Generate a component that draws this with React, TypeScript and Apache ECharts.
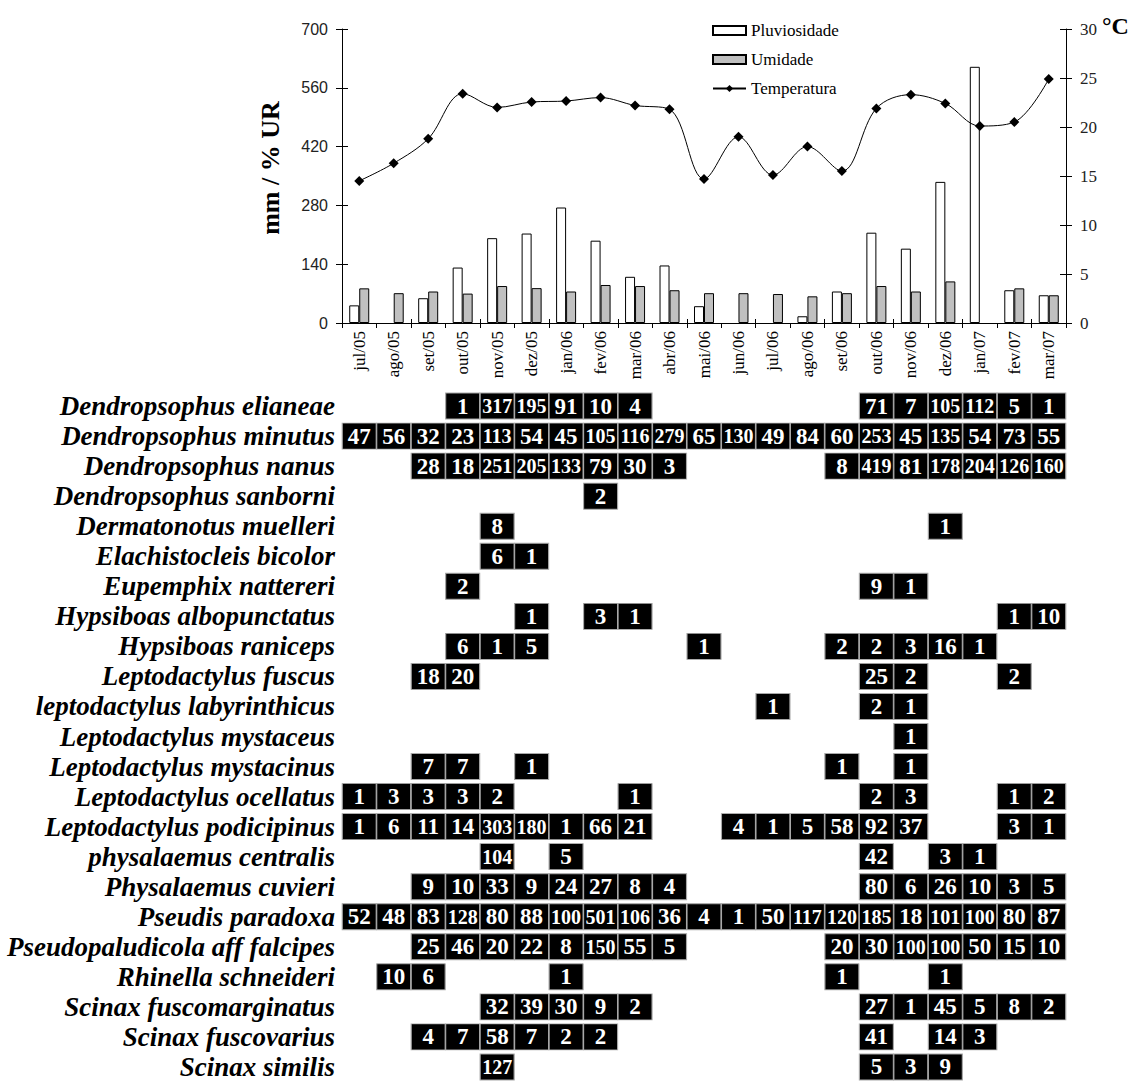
import React, { useEffect, useRef } from 'react';
import * as echarts from 'echarts';

const months = ['jul/05', 'ago/05', 'set/05', 'out/05', 'nov/05', 'dez/05', 'jan/06', 'fev/06', 'mar/06', 'abr/06', 'mai/06', 'jun/06', 'jul/06', 'ago/06', 'set/06', 'out/06', 'nov/06', 'dez/06', 'jan/07', 'fev/07', 'mar/07'];

const rainfall = [42, null, 59, 132, 202, 213, 275, 196, 110, 137, 40, null, null, 16, 75, 215, 177, 336, 610, 78, 66];
const humidity = [82.5, 71, 75, 70, 88, 83, 75, 90.5, 88, 78, 71, 71, 69, 63.5, 71, 88, 75, 99, null, 82.5, 66];
const temperature = [14.5, 16.3, 18.8, 23.4, 22.0, 22.55, 22.65, 23.0, 22.2, 21.8, 14.7, 19.0, 15.1, 18.0, 15.5, 21.9, 23.3, 22.4, 20.1, 20.5, 24.9];

const leftTicks = { min: 0, max: 700, interval: 140 };
const rightTicks = { min: 0, max: 30, interval: 5 };

const species = [
  'Dendropsophus elianeae',
  'Dendropsophus minutus',
  'Dendropsophus nanus',
  'Dendropsophus sanborni',
  'Dermatonotus muelleri',
  'Elachistocleis bicolor',
  'Eupemphix nattereri',
  'Hypsiboas albopunctatus',
  'Hypsiboas raniceps',
  'Leptodactylus fuscus',
  'leptodactylus labyrinthicus',
  'Leptodactylus mystaceus',
  'Leptodactylus mystacinus',
  'Leptodactylus ocellatus',
  'Leptodactylus podicipinus',
  'physalaemus centralis',
  'Physalaemus cuvieri',
  'Pseudis paradoxa',
  'Pseudopaludicola aff falcipes',
  'Rhinella schneideri',
  'Scinax fuscomarginatus',
  'Scinax fuscovarius',
  'Scinax similis',
];

const _ = null;
// counts per species, one value per month (jul/05 .. mar/07)
const counts: (number | null)[][] = [
  [_, _, _, 1, 317, 195, 91, 10, 4, _, _, _, _, _, _, 71, 7, 105, 112, 5, 1],
  [47, 56, 32, 23, 113, 54, 45, 105, 116, 279, 65, 130, 49, 84, 60, 253, 45, 135, 54, 73, 55],
  [_, _, 28, 18, 251, 205, 133, 79, 30, 3, _, _, _, _, 8, 419, 81, 178, 204, 126, 160],
  [_, _, _, _, _, _, _, 2, _, _, _, _, _, _, _, _, _, _, _, _, _],
  [_, _, _, _, 8, _, _, _, _, _, _, _, _, _, _, _, _, 1, _, _, _],
  [_, _, _, _, 6, 1, _, _, _, _, _, _, _, _, _, _, _, _, _, _, _],
  [_, _, _, 2, _, _, _, _, _, _, _, _, _, _, _, 9, 1, _, _, _, _],
  [_, _, _, _, _, 1, _, 3, 1, _, _, _, _, _, _, _, _, _, _, 1, 10],
  [_, _, _, 6, 1, 5, _, _, _, _, 1, _, _, _, 2, 2, 3, 16, 1, _, _],
  [_, _, 18, 20, _, _, _, _, _, _, _, _, _, _, _, 25, 2, _, _, 2, _],
  [_, _, _, _, _, _, _, _, _, _, _, _, 1, _, _, 2, 1, _, _, _, _],
  [_, _, _, _, _, _, _, _, _, _, _, _, _, _, _, _, 1, _, _, _, _],
  [_, _, 7, 7, _, 1, _, _, _, _, _, _, _, _, 1, _, 1, _, _, _, _],
  [1, 3, 3, 3, 2, _, _, _, 1, _, _, _, _, _, _, 2, 3, _, _, 1, 2],
  [1, 6, 11, 14, 303, 180, 1, 66, 21, _, _, 4, 1, 5, 58, 92, 37, _, _, 3, 1],
  [_, _, _, _, 104, _, 5, _, _, _, _, _, _, _, _, 42, _, 3, 1, _, _],
  [_, _, 9, 10, 33, 9, 24, 27, 8, 4, _, _, _, _, _, 80, 6, 26, 10, 3, 5],
  [52, 48, 83, 128, 80, 88, 100, 501, 106, 36, 4, 1, 50, 117, 120, 185, 18, 101, 100, 80, 87],
  [_, _, 25, 46, 20, 22, 8, 150, 55, 5, _, _, _, _, 20, 30, 100, 100, 50, 15, 10],
  [_, 10, 6, _, _, _, 1, _, _, _, _, _, _, _, 1, _, _, 1, _, _, _],
  [_, _, _, _, 32, 39, 30, 9, 2, _, _, _, _, _, _, 27, 1, 45, 5, 8, 2],
  [_, _, 4, 7, 58, 7, 2, 2, _, _, _, _, _, _, _, 41, _, 14, 3, _, _],
  [_, _, _, _, 127, _, _, _, _, _, _, _, _, _, _, 5, 3, 9, _, _, _],
];

const SERIF = "'Liberation Serif', 'Times New Roman', serif";
const SANS = "'Liberation Sans', Arial, sans-serif";

export default function App() {
  const ref = useRef<HTMLDivElement>(null);

  useEffect(() => {
    if (!ref.current) return;
    const chart = echarts.init(ref.current, undefined, { renderer: 'svg' });

    const cells: any[] = [];
    counts.forEach((row, r) => {
      row.forEach((v, c) => {
        if (v === null || v === undefined) return;
        const big = String(v).length >= 3;
        cells.push({
          value: [c, r, v],
          label: { fontSize: big ? 20 : 23, fontWeight: 'bold' },
        });
      });
    });

    const gridTop = { left: 342, right: 65, top: 29, height: 294 };
    const gridBottom = { left: 342, right: 65, top: 391, height: 693 };

    const option: any = {
      animation: false,
      backgroundColor: '#fff',
      grid: [gridTop, gridBottom],
      legend: {
        orient: 'vertical',
        left: 707,
        top: 17,
        itemWidth: 33,
        itemHeight: 9,
        itemGap: 12,
        textStyle: { fontFamily: SERIF, fontSize: 17, color: '#000' },
        data: [
          { name: 'Pluviosidade', icon: 'rect' },
          { name: 'Umidade', icon: 'rect' },
          { name: 'Temperatura' },
        ],
      },
      xAxis: [
        {
          type: 'category',
          gridIndex: 0,
          data: months,
          boundaryGap: true,
          position: 'bottom',
          axisLine: { lineStyle: { color: '#000', width: 1 } },
          axisTick: { show: true, inside: false, length: 5, lineStyle: { color: '#000' } },
          axisLabel: { rotate: 90, fontFamily: SERIF, fontSize: 17, color: '#000', margin: 8, interval: 0 },
        },
        {
          type: 'category',
          gridIndex: 0,
          data: months,
          boundaryGap: true,
          position: 'bottom',
          axisLine: { show: false },
          axisTick: { show: true, inside: true, length: 4, lineStyle: { color: '#000' } },
          axisLabel: { show: false },
        },
        {
          type: 'category',
          gridIndex: 1,
          data: months,
          show: false,
        },
      ],
      yAxis: [
        {
          type: 'value',
          gridIndex: 0,
          position: 'left',
          ...leftTicks,
          splitLine: { show: false },
          axisLine: { show: true, lineStyle: { color: '#000' } },
          axisTick: { show: true, inside: false, length: 6, lineStyle: { color: '#000' } },
          axisLabel: { fontFamily: SANS, fontSize: 16, color: '#222', margin: 14 },
        },
        {
          type: 'value',
          gridIndex: 0,
          position: 'right',
          ...rightTicks,
          splitLine: { show: false },
          axisLine: { show: true, lineStyle: { color: '#000' } },
          axisTick: { show: true, inside: false, length: 6, lineStyle: { color: '#000' } },
          axisLabel: { fontFamily: SERIF, fontSize: 17, color: '#222', margin: 14 },
        },
        {
          type: 'value',
          gridIndex: 0,
          position: 'left',
          ...leftTicks,
          splitLine: { show: false },
          axisLine: { show: false },
          axisTick: { show: true, inside: true, length: 6, lineStyle: { color: '#000' } },
          axisLabel: { show: false },
        },
        {
          type: 'value',
          gridIndex: 0,
          position: 'right',
          ...rightTicks,
          splitLine: { show: false },
          axisLine: { show: false },
          axisTick: { show: true, inside: true, length: 6, lineStyle: { color: '#000' } },
          axisLabel: { show: false },
        },
        {
          type: 'category',
          gridIndex: 1,
          data: species,
          inverse: true,
          axisLine: { show: false },
          axisTick: { show: false },
          splitLine: { show: false },
          axisLabel: {
            fontFamily: SERIF,
            fontStyle: 'italic',
            fontWeight: 'bold',
            fontSize: 27,
            color: '#000',
            margin: 7,
            interval: 0,
          },
        },
      ],
      series: [
        {
          name: 'Pluviosidade',
          type: 'bar',
          xAxisIndex: 0,
          yAxisIndex: 0,
          data: rainfall,
          barWidth: 10,
          barGap: '0%',
          itemStyle: { color: '#fff', borderColor: '#000', borderWidth: 1 },
        },
        {
          name: 'Umidade',
          type: 'bar',
          xAxisIndex: 0,
          yAxisIndex: 0,
          data: humidity,
          barWidth: 10,
          barGap: '0%',
          itemStyle: { color: '#c0c0c0', borderColor: '#000', borderWidth: 1 },
        },
        {
          name: 'Temperatura',
          type: 'line',
          xAxisIndex: 0,
          yAxisIndex: 1,
          data: temperature,
          smooth: 0.35,
          symbol: 'diamond',
          symbolSize: 10,
          itemStyle: { color: '#000' },
          lineStyle: { color: '#000', width: 1 },
          z: 5,
        },
        {
          name: 'Registros',
          type: 'scatter',
          xAxisIndex: 2,
          yAxisIndex: 4,
          data: cells,
          symbol: 'rect',
          symbolSize: [34, 26],
          itemStyle: { color: '#000', opacity: 1, borderColor: '#a8a8a8', borderWidth: 1 },
          label: {
            show: true,
            position: 'inside',
            color: '#fff',
            fontFamily: SERIF,
            formatter: (p: any) => String(p.value[2]),
          },
        },
      ],
      graphic: [
        {
          type: 'text',
          x: 270,
          y: 168,
          rotation: Math.PI / 2,
          style: {
            text: 'mm / % UR',
            font: `bold 26px ${SERIF}`,
            fill: '#000',
            textAlign: 'center',
            textVerticalAlign: 'middle',
          },
        },
        {
          type: 'text',
          x: 1102,
          y: 14,
          style: {
            text: '°C',
            font: `bold 24px ${SERIF}`,
            fill: '#000',
          },
        },
      ],
    };

    chart.setOption(option);
    return () => chart.dispose();
  }, []);

  return (
    <div
      ref={ref}
      style={{ position: 'absolute', left: 0, top: 0, width: 1131, height: 1082, background: '#fff' }}
    />
  );
}
